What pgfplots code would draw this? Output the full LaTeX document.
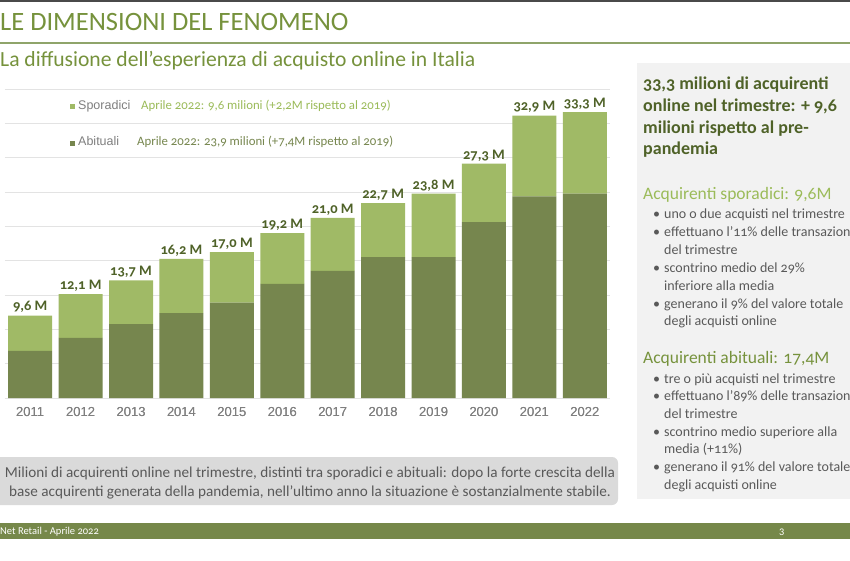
\documentclass[border=0pt]{standalone}
\usepackage{fontspec}
\setmainfont{Carlito}[Numbers=OldStyle]
\newfontfamily\arial{Liberation Sans}
\usepackage{pgfplots}
\usepackage{pgfplotstable}
\pgfplotsset{compat=1.18}
\definecolor{lg}{HTML}{A0BA66}
\definecolor{dg}{HTML}{76864E}
\definecolor{lab}{HTML}{4F6228}
\definecolor{titlegreen}{HTML}{76923C}
\definecolor{txtgray}{HTML}{595959}
\definecolor{tickgray}{HTML}{7F7F7F}
\definecolor{gridgray}{HTML}{E3E3E3}
\definecolor{panelgray}{HTML}{F2F2F2}
\definecolor{capgray}{HTML}{DADADA}
\definecolor{footgreen}{HTML}{76884A}
\definecolor{topgray}{HTML}{4A4A4A}
\definecolor{titleline}{HTML}{8FA46A}
\definecolor{sporgreen}{HTML}{9BBB59}
\newcommand{\fs}[1]{\fontsize{#1}{#1}\selectfont}
\pgfplotstableread{
x abit spor tot lab
0 5.5 4.1 9.6 {9,6 M}
1 7.0 5.1 12.1 {12,1 M}
2 8.6 5.1 13.7 {13,7 M}
3 9.9 6.3 16.2 {16,2 M}
4 11.1 5.9 17.0 {17,0 M}
5 13.3 5.9 19.2 {19,2 M}
6 14.8 6.2 21.0 {21,0 M}
7 16.4 6.3 22.7 {22,7 M}
8 16.4 7.4 23.8 {23,8 M}
9 20.5 6.8 27.3 {27,3 M}
10 23.5 9.4 32.9 {32,9 M}
11 23.8 9.5 33.3 {33,3 M}
}\data
\pgfplotsset{baseax/.style={
  at={(5pt,162pt)}, anchor=south west,
  scale only axis, width=605pt, height=309pt,
  xmin=-0.5, xmax=11.5, ymin=0, ymax=36,
  xtick={0,...,11},
  xticklabels={2011,2012,2013,2014,2015,2016,2017,2018,2019,2020,2021,2022},
  ytick={0,4,...,36}, yticklabels={},
  axis line style={draw=none}, major tick length=0pt,
  xticklabel style={font=\arial\fs{13}, text=tickgray, yshift=-6pt},
  clip=false}}
\begin{document}
\begin{tikzpicture}[x=1pt,y=1pt]
\path[use as bounding box] (0,0) rectangle (850,560);
\clip (0,0) rectangle (850,560);
\fill[white] (0,0) rectangle (850,560);
% side panel
\fill[panelgray] (637,61) rectangle (860,497);
% caption box
\fill[capgray, rounded corners=6pt] (-10,55) rectangle (618,103);
% footer
\fill[footgreen] (0,21) rectangle (850,37);
% header lines
\draw[topgray, line width=2pt] (0,559) -- (850,559);
\draw[titleline, line width=1.2pt] (0,517) -- (850,517);
\node[anchor=base west, inner sep=0, text=titlegreen, font=\fs{26.5}] at (0,529) {LE DIMENSIONI DEL FENOMENO};
\node[anchor=base west, inner sep=0, text=titlegreen, font=\fs{21.6}] at (0,493) {La diffusione dell’esperienza di acquisto online in Italia};

\begin{axis}[baseax, ybar stacked, bar width=44pt,
  ymajorgrids, grid style={draw=gridgray, line width=0.8pt}]
\addplot[fill=dg, draw=none] table[x=x, y=abit] {\data};
\addplot[fill=lg, draw=none] table[x=x, y=spor] {\data};
\end{axis}
\begin{axis}[baseax]
\addplot[draw=none, mark=none,
  nodes near coords, point meta=explicit symbolic,
  nodes near coords style={font=\bfseries\fs{14.5}, text=lab, anchor=south, inner sep=2.5pt}]
  table[x=x, y=tot, meta=lab] {\data};
\end{axis}

% legend inside chart
\fill[lg] (70,451) rectangle (75,456);
\node[anchor=base west, inner sep=0, font=\arial\fs{12.5}, text=tickgray] at (78,450) {Sporadici};
\node[anchor=base west, inner sep=0, font=\fs{12.8}, text=sporgreen] at (141,450) {Aprile 2022: 9,6 milioni (+2,2M rispetto al 2019)};
\fill[dg] (70,414) rectangle (75,419);
\node[anchor=base west, inner sep=0, font=\arial\fs{12.5}, text=tickgray] at (78,414) {Abituali};
\node[anchor=base west, inner sep=0, font=\fs{12.8}, text=dg] at (137,414) {Aprile 2022: 23,9 milioni (+7,4M rispetto al 2019)};

% side panel text
\begin{scope}[every node/.style={anchor=base west, inner sep=0}]
\node[font=\bfseries\fs{18}, text=lab] at (643,470) {33,3 milioni di acquirenti};
\node[font=\bfseries\fs{18}, text=lab] at (643,448) {online nel trimestre: + 9,6};
\node[font=\bfseries\fs{18}, text=lab] at (643,426.5) {milioni rispetto al pre-};
\node[font=\bfseries\fs{18}, text=lab] at (643,405) {pandemia};
\node[font=\fs{17.5}, text=sporgreen] at (643,360) {Acquirenti sporadici: 9,6M};
\foreach \y in {341, 323.2, 287.6, 252}
  \node[font=\fs{14}, text=txtgray] at (653,\y) {•};
\node[font=\fs{14}, text=txtgray] at (664,341) {uno o due acquisti nel trimestre};
\node[font=\fs{14}, text=txtgray] at (664,323.2) {effettuano l’11\% delle transazioni};
\node[font=\fs{14}, text=txtgray] at (664,305.4) {del trimestre};
\node[font=\fs{14}, text=txtgray] at (664,287.6) {scontrino medio del 29\%};
\node[font=\fs{14}, text=txtgray] at (664,269.8) {inferiore alla media};
\node[font=\fs{14}, text=txtgray] at (664,252) {generano il 9\% del valore totale};
\node[font=\fs{14}, text=txtgray] at (664,234.2) {degli acquisti online};
\node[font=\fs{17.5}, text=titlegreen] at (643,197) {Acquirenti abituali: 17,4M};
\foreach \y in {177, 159.3, 123.9, 88.5}
  \node[font=\fs{14}, text=txtgray] at (653,\y) {•};
\node[font=\fs{14}, text=txtgray] at (664,177) {tre o più acquisti nel trimestre};
\node[font=\fs{14}, text=txtgray] at (664,159.3) {effettuano l’89\% delle transazioni};
\node[font=\fs{14}, text=txtgray] at (664,141.6) {del trimestre};
\node[font=\fs{14}, text=txtgray] at (664,123.9) {scontrino medio superiore alla};
\node[font=\fs{14}, text=txtgray] at (664,106.2) {media (+11\%)};
\node[font=\fs{14}, text=txtgray] at (664,88.5) {generano il 91\% del valore totale};
\node[font=\fs{14}, text=txtgray] at (664,70.8) {degli acquisti online};
% footer text
\node[font=\fs{10.5}, text=white] at (0,25.5) {Net Retail - Aprile 2022};
\node[font=\fs{10.5}, text=white] at (779,25.5) {3};
\end{scope}

% caption text
\node[anchor=base, inner sep=0, font=\fs{15.2}, text=txtgray] at (310,83) {Milioni di acquirenti online nel trimestre, distinti tra sporadici e abituali: dopo la forte crescita della};
\node[anchor=base, inner sep=0, font=\fs{15.2}, text=txtgray] at (310,64) {base acquirenti generata della pandemia, nell’ultimo anno la situazione è sostanzialmente stabile.};
\end{tikzpicture}
\end{document}
